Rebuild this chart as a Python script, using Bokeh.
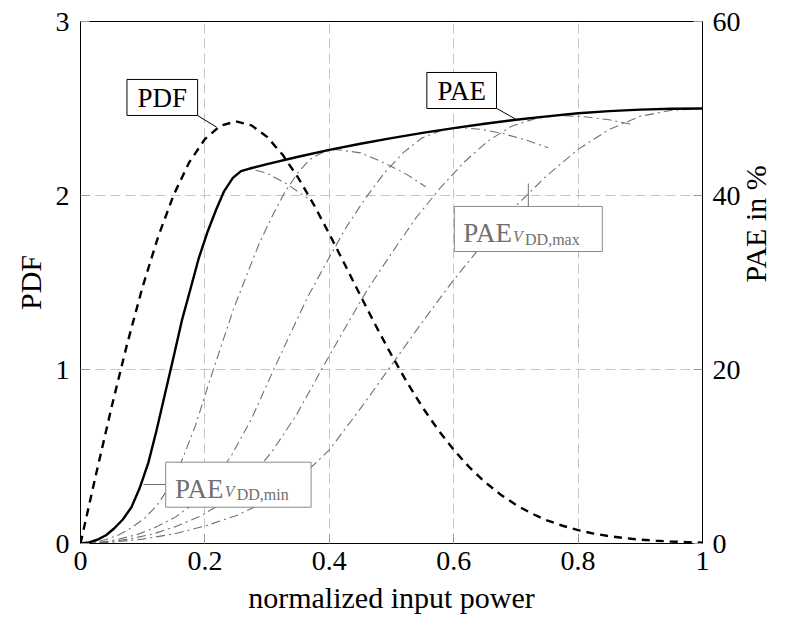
from math import pi
from bokeh.plotting import figure
from bokeh.models import Range1d, LinearAxis, FixedTicker, Label, BoxAnnotation
from bokeh.embed import file_html
from bokeh.resources import INLINE

# ---------------- data ----------------
pdf_x = [0.0, 0.025, 0.05, 0.075, 0.1, 0.125, 0.15, 0.175, 0.2, 0.225, 0.25,
         0.275, 0.3, 0.325, 0.35, 0.375, 0.4, 0.425, 0.45, 0.475, 0.5,
         0.525, 0.55, 0.575, 0.6, 0.625, 0.65, 0.675, 0.7, 0.725, 0.75,
         0.775, 0.8, 0.825, 0.85, 0.875, 0.9, 0.925, 0.95, 0.975, 1.0]
pdf_y = [0.0, 0.398, 0.784, 1.147, 1.477, 1.765, 2.005, 2.192, 2.324, 2.401, 2.426,
         2.403, 2.337, 2.234, 2.102, 1.948, 1.779, 1.603, 1.425, 1.250, 1.083,
         0.926, 0.782, 0.653, 0.539, 0.439, 0.354, 0.282, 0.222, 0.173, 0.133,
         0.102, 0.077, 0.057, 0.042, 0.031, 0.022, 0.016, 0.011, 0.008, 0.005]

# PAE (in %) for the individual supply voltages, V_DD,min ... V_DD,max
pae1_x = [0.0, 0.014, 0.027, 0.041, 0.054, 0.068, 0.082, 0.095, 0.109, 0.122, 0.136,
          0.150, 0.163, 0.177, 0.190, 0.204, 0.218, 0.231, 0.245, 0.258, 0.272,
          0.300, 0.330, 0.365]
pae1_y = [0.0, 0.13, 0.43, 0.95, 1.72, 2.76, 4.18, 6.34, 9.27, 12.93, 17.24,
          21.55, 25.64, 29.31, 32.76, 35.77, 38.36, 40.51, 42.02, 42.80, 43.10,
          42.55, 41.40, 39.70]

pae2_x = [0.0, 0.021, 0.041, 0.062, 0.082, 0.103, 0.123, 0.144, 0.164, 0.185, 0.205,
          0.226, 0.246, 0.267, 0.287, 0.308, 0.328, 0.349, 0.369, 0.390, 0.410,
          0.450, 0.490, 0.525, 0.555]
pae2_y = [0.0, 0.14, 0.45, 1.00, 1.81, 2.90, 4.39, 6.66, 9.74, 13.59, 18.12,
          22.65, 26.95, 30.80, 34.43, 37.60, 40.32, 42.58, 44.17, 44.98, 45.30,
          44.90, 43.70, 42.40, 41.00]

pae3_x = [0.0, 0.031, 0.061, 0.092, 0.122, 0.153, 0.183, 0.214, 0.244, 0.275, 0.305,
          0.336, 0.366, 0.397, 0.427, 0.458, 0.488, 0.519, 0.549, 0.580, 0.610,
          0.645, 0.680, 0.715, 0.752]
pae3_y = [0.0, 0.14, 0.48, 1.05, 1.91, 3.06, 4.64, 7.03, 10.28, 14.34, 19.12,
          23.90, 28.44, 32.50, 36.33, 39.67, 42.54, 44.93, 46.61, 47.47, 47.80,
          47.60, 47.10, 46.40, 45.50]

pae4_x = [0.0, 0.039, 0.077, 0.116, 0.154, 0.193, 0.231, 0.270, 0.308, 0.347, 0.385,
          0.424, 0.462, 0.501, 0.539, 0.578, 0.616, 0.655, 0.693, 0.732, 0.770,
          0.810, 0.850, 0.888]
pae4_y = [0.0, 0.15, 0.49, 1.08, 1.97, 3.15, 4.77, 7.23, 10.58, 14.76, 19.68,
          24.60, 29.27, 33.46, 37.39, 40.84, 43.79, 46.25, 47.97, 48.86, 49.20,
          49.05, 48.70, 48.15]

pae5_x = [0.0, 0.05, 0.1, 0.15, 0.2, 0.25, 0.3, 0.35, 0.4, 0.45, 0.5,
          0.55, 0.6, 0.65, 0.7, 0.75, 0.8, 0.85, 0.9, 0.95, 1.0]
pae5_y = [0.0, 0.15, 0.50, 1.10, 2.00, 3.20, 4.85, 7.35, 10.75, 15.50, 20.50,
          25.50, 30.30, 34.70, 38.80, 42.30, 45.30, 47.60, 49.10, 49.80, 50.00]

# envelope PAE (supply voltage tracked)
env_x = [0.0, 0.014, 0.027, 0.041, 0.054, 0.068, 0.082, 0.095, 0.109, 0.122, 0.136,
         0.150, 0.163, 0.177, 0.190, 0.204, 0.218, 0.231, 0.245, 0.258, 0.272,
         0.30, 0.35, 0.40, 0.45, 0.50, 0.55, 0.60, 0.65, 0.70, 0.75,
         0.80, 0.85, 0.90, 0.95, 1.0]
env_y = [0.0, 0.13, 0.43, 0.95, 1.72, 2.76, 4.18, 6.34, 9.27, 12.93, 17.24,
         21.55, 25.64, 29.31, 32.76, 35.77, 38.36, 40.51, 42.02, 42.80, 43.10,
         43.60, 44.45, 45.25, 45.95, 46.60, 47.20, 47.75, 48.25, 48.70, 49.10,
         49.45, 49.70, 49.87, 49.97, 50.00]

x_ticks = [0, 0.2, 0.4, 0.6, 0.8, 1]
x_tick_labels = ["0", "0.2", "0.4", "0.6", "0.8", "1"]
pdf_ticks = [0, 1, 2, 3]
pae_ticks = [0, 20, 40, 60]

# ---------------- figure ----------------
SERIF = "Liberation Serif"
GRAY = "#707070"

p = figure(width=791, height=617, x_range=Range1d(0, 1), y_range=Range1d(0, 3),
           output_backend="svg", toolbar_location=None,
           min_border_left=80, min_border_right=86, min_border_top=21,
           min_border_bottom=74)
p.background_fill_color = "white"
p.border_fill_color = "white"
p.outline_line_color = "black"
p.outline_line_width = 1
p.outline_line_alpha = 1

p.extra_y_ranges = {"pae": Range1d(0, 60)}
raxis = LinearAxis(y_range_name="pae", ticker=FixedTicker(ticks=pae_ticks))
p.add_layout(raxis, "right")

xaxis = p.xaxis[0]
laxis = p.yaxis[0]
xaxis.ticker = FixedTicker(ticks=x_ticks)
xaxis.major_label_overrides = {t: l for t, l in zip(x_ticks, x_tick_labels)}
laxis.ticker = FixedTicker(ticks=pdf_ticks)

for ax in [xaxis, laxis, raxis]:
    ax.axis_line_color = "black"
    ax.axis_line_width = 1
    ax.major_tick_in = 9
    ax.major_tick_out = 0
    ax.major_tick_line_color = "#9a9a9a"
    ax.minor_tick_line_color = None
    ax.major_label_text_font = SERIF
    ax.major_label_text_font_size = "28px"
    ax.major_label_text_color = "black"
    ax.axis_label_text_font = SERIF
    ax.axis_label_text_font_size = "30px"
    ax.axis_label_text_font_style = "normal"
    ax.axis_label_text_color = "black"
xaxis.major_label_standoff = 8
laxis.major_label_standoff = 11
raxis.major_label_standoff = 10

xaxis.axis_label = "normalized input power"
xaxis.axis_label_standoff = 8
laxis.axis_label = "PDF"
laxis.axis_label_standoff = 6
raxis.axis_label = "PAE in %"
raxis.axis_label_standoff = 12
raxis.axis_label_text_baseline = "top"
raxis.axis_label_orientation = pi / 2

for g in [p.xgrid[0], p.ygrid[0]]:
    g.grid_line_color = "#c4c4c4"
    g.grid_line_width = 1
    g.grid_line_dash = "10 5"

# ---------------- curves ----------------
for xs, ys in [(pae1_x, pae1_y), (pae2_x, pae2_y), (pae3_x, pae3_y),
               (pae4_x, pae4_y), (pae5_x, pae5_y)]:
    p.line(xs, ys, y_range_name="pae", line_color=GRAY, line_width=1.1,
           line_dash="9 4 2 4")

p.line(env_x, env_y, y_range_name="pae", line_color="black", line_width=2.4)
p.line(pdf_x, pdf_y, line_color="black", line_width=2.4, line_dash="8 6")

# ---------------- annotations ----------------
# leader lines (x in input power, y in PDF units)
p.line([0.188, 0.2187], [2.460, 2.393], line_color="black", line_width=1)
p.line([0.6683, 0.6987], [2.502, 2.441], line_color="black", line_width=1)
p.line([0.720, 0.720], [1.937, 2.069], line_color=GRAY, line_width=1)
p.line([0.1013, 0.137], [0.339, 0.339], line_color=GRAY, line_width=1)

def box(l, r, t, b, color):
    p.add_layout(BoxAnnotation(left=l, right=r, top=t, bottom=b,
                               fill_color="white", fill_alpha=1,
                               line_color=color, line_width=1, line_alpha=1))

box(0.0747, 0.1883, 2.667, 2.460, "black")
box(0.5568, 0.6688, 2.707, 2.500, "black")
box(0.6011, 0.8389, 1.937, 1.678, "#8a8a8a")
box(0.1370, 0.3707, 0.4672, 0.2086, "#8a8a8a")

def lab(x, y, text, size, color="black", align="left", baseline="alphabetic",
        style="normal"):
    p.add_layout(Label(x=x, y=y, text=text, text_font=SERIF,
                       text_font_size=size, text_color=color,
                       text_align=align, text_baseline=baseline,
                       text_font_style=style))

lab(0.1315, 2.563, "PDF", "27px", align="center", baseline="middle")
lab(0.6128, 2.603, "PAE", "27px", align="center", baseline="middle")

lab(0.6155, 1.784, "PAE", "27px", color=GRAY)
lab(0.6955, 1.767, "V", "16px", color=GRAY, style="italic")
lab(0.7147, 1.749, "DD,max", "16px", color=GRAY)

lab(0.1520, 0.3144, "PAE", "27px", color=GRAY)
lab(0.2320, 0.2989, "V", "16px", color=GRAY, style="italic")
lab(0.2512, 0.2816, "DD,min", "16px", color=GRAY)

open("out.html", "w").write(file_html(p, INLINE))
